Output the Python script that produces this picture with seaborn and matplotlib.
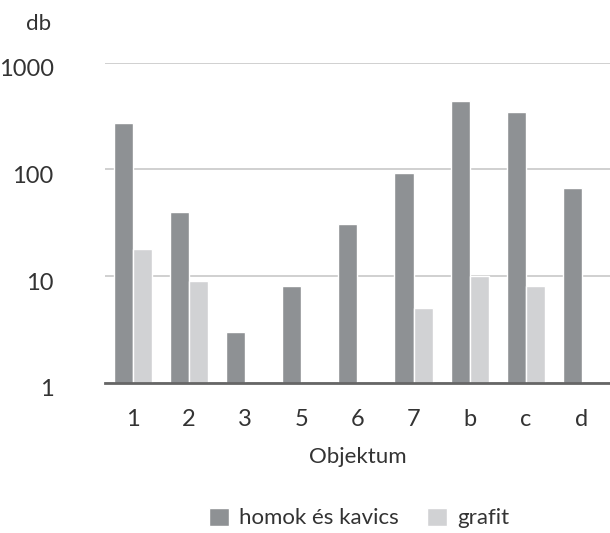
import matplotlib
matplotlib.use("Agg")
import matplotlib.pyplot as plt
import matplotlib.transforms as mtransforms
import numpy as np
import pandas as pd
import seaborn as sns

# ── data ────────────────────────────────────────────────────────────────
objektum = ["1", "2", "3", "5", "6", "7", "b", "c", "d"]
homok    = [272, 40, 3, 8, 31, 92, 436, 344, 67]
grafit   = [18, 9, np.nan, np.nan, np.nan, 5, 10, 8, np.nan]
series   = ["homok és kavics", "grafit"]

df = pd.DataFrame({
    "Objektum": objektum * 2,
    "db": homok + grafit,
    "sorozat": [series[0]] * len(objektum) + [series[1]] * len(objektum),
})

DARK  = "#8e9194"
LIGHT = "#d1d2d4"
TXT   = "#333333"

sns.set_style("white")
plt.rcParams["font.family"] = ["Lato", "DejaVu Sans"]

fig = plt.figure(figsize=(6.1, 5.33), dpi=100)
ax = fig.add_axes([0.172, 0.282, 0.828, 0.600])
ax.set_yscale("log")

sns.barplot(data=df, x="Objektum", y="db", hue="sorozat",
            palette=[DARK, LIGHT], width=0.68, gap=0, saturation=1,
            legend=True, ax=ax)

ax.set_ylim(1, 1000)
ax.set_xlim(-0.5, len(objektum) - 0.5)
ax.set_yticks([1, 10, 100, 1000])
ax.set_yticklabels(["1", "10", "100", "1000"])
ax.minorticks_off()
ax.yaxis.grid(True, color="#c8c8c8", lw=1.2)
ax.set_axisbelow(True)
ax.tick_params(axis="both", length=0, labelsize=17, colors=TXT)
ax.tick_params(axis="y", pad=37)
ax.tick_params(axis="x", pad=19)
for lab in ax.get_yticklabels():
    lab.set_transform(lab.get_transform() +
                      mtransforms.ScaledTranslation(0, -5 / 100, fig.dpi_scale_trans))

for s in ["top", "right", "left"]:
    ax.spines[s].set_visible(False)
ax.spines["bottom"].set_color("#666666")
ax.spines["bottom"].set_linewidth(2)

ax.set_ylabel("")
ax.set_xlabel("Objektum", fontsize=16, color=TXT, labelpad=12)
fig.text(0.063, 0.955, "db", fontsize=16, color=TXT, ha="center", va="center")

handles, labels = ax.get_legend_handles_labels()
ax.legend(handles, labels, loc="center", bbox_to_anchor=(0.503, -0.423),
          ncol=2, frameon=False, fontsize=16, handlelength=0.9, handleheight=0.9,
          handletextpad=0.45, columnspacing=1.3, labelcolor=TXT)

fig.savefig("out.png", dpi=100)
